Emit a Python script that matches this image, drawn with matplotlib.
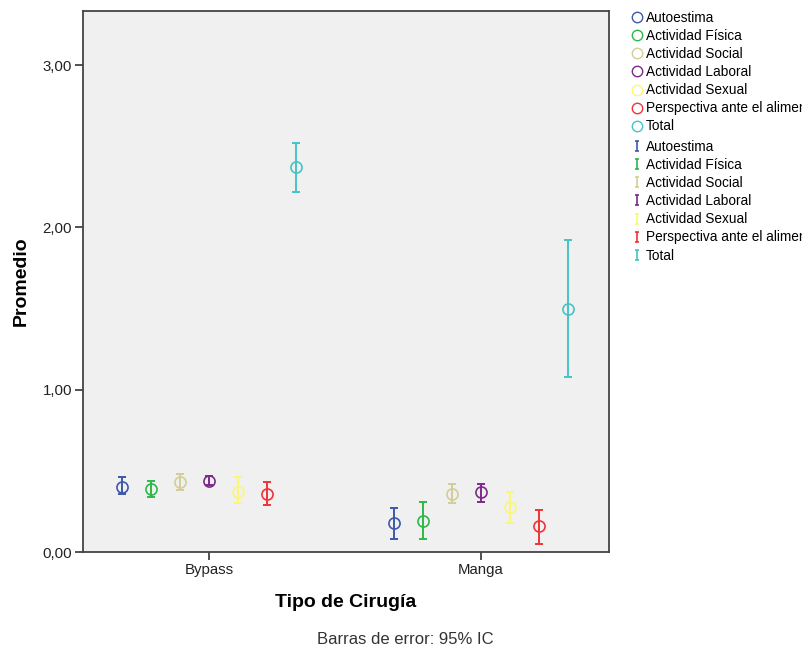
import matplotlib.pyplot as plt
from matplotlib.lines import Line2D
from matplotlib.path import Path

plt.rcParams["font.family"] = ["Liberation Sans", "DejaVu Sans"]

categories = ["Bypass", "Manga"]
series = ["Autoestima", "Actividad Física", "Actividad Social", "Actividad Laboral",
          "Actividad Sexual", "Perspectiva ante el alimento", "Total"]
colors = ["#3E58AC", "#2EB848", "#D3CE97", "#7C2A8A", "#FBF873", "#EF3338", "#48C2C5"]

# means and 95% CI bounds per series: [Bypass, Manga]
means = [
    [0.40, 0.18],
    [0.39, 0.19],
    [0.43, 0.36],
    [0.44, 0.37],
    [0.37, 0.28],
    [0.36, 0.16],
    [2.37, 1.50],
]
lower = [
    [0.36, 0.08],
    [0.34, 0.08],
    [0.38, 0.30],
    [0.41, 0.31],
    [0.30, 0.18],
    [0.29, 0.05],
    [2.22, 1.08],
]
upper = [
    [0.46, 0.27],
    [0.44, 0.31],
    [0.48, 0.42],
    [0.47, 0.42],
    [0.46, 0.37],
    [0.43, 0.26],
    [2.52, 1.92],
]

# little "I" glyph for the error-bar legend entries
ibar = Path([(-0.45, -1), (0.45, -1), (0, -1), (0, 1), (-0.45, 1), (0.45, 1)],
            [Path.MOVETO, Path.LINETO, Path.MOVETO, Path.LINETO, Path.MOVETO, Path.LINETO])

fig = plt.figure(figsize=(8.02, 6.49), dpi=100)
ax = fig.add_axes([83 / 802, 1 - 552 / 649, 526 / 802, 541 / 649])
ax.set_facecolor("#F0F0F0")

step = 0.1066
circle_handles = []
bar_handles = []
for i, name in enumerate(series):
    off = (i - 3) * step
    xs = [c + off for c in range(len(categories))]
    m = means[i]
    yerr = [[m[k] - lower[i][k] for k in range(2)], [upper[i][k] - m[k] for k in range(2)]]
    ax.errorbar(xs, m, yerr=yerr, fmt="none", ecolor=colors[i], elinewidth=1.4,
                capsize=3, capthick=1.4)
    ax.plot(xs, m, "o", mfc="none", mec=colors[i], ms=8, mew=1.2)
    circle_handles.append(Line2D([], [], marker="o", ls="none", mfc="none",
                                 mec=colors[i], ms=7.5, mew=1.0))
    bar_handles.append(Line2D([], [], marker=ibar, ls="none", mec=colors[i],
                              ms=7, mew=1.2))

ax.set_xlim(-0.463, 1.471)
ax.set_ylim(0, 3.333)
ax.set_xticks(range(len(categories)))
ax.set_xticklabels(categories)
ax.set_yticks([0, 1, 2, 3])
ax.set_yticklabels(["0,00", "1,00", "2,00", "3,00"])
ax.tick_params(axis="both", labelsize=10.8, length=6, width=1.2, color="#333333",
               direction="out", pad=2, labelcolor="#222222")
for sp in ax.spines.values():
    sp.set_color("#444444")
    sp.set_linewidth(1.3)

ax.set_ylabel("Promedio", fontsize=14, fontweight="bold", labelpad=9)
ax.set_xlabel("Tipo de Cirugía", fontsize=14, fontweight="bold", labelpad=12)

fig.text(405 / 802, 1 - 640 / 649, "Barras de error: 95% IC", fontsize=12,
         ha="center", va="center", color="#333333")

leg_kw = dict(loc="upper left", frameon=False, fontsize=9.8, handlelength=0.7,
              handletextpad=0.3, labelspacing=0.3, borderaxespad=0, borderpad=0)
leg1 = fig.legend(circle_handles, series, bbox_to_anchor=(632 / 802, 1 - 11 / 649), **leg_kw)
leg2 = fig.legend(bar_handles, series, bbox_to_anchor=(632 / 802, 1 - 140 / 649), **leg_kw)

fig.savefig("out.png", dpi=100)
